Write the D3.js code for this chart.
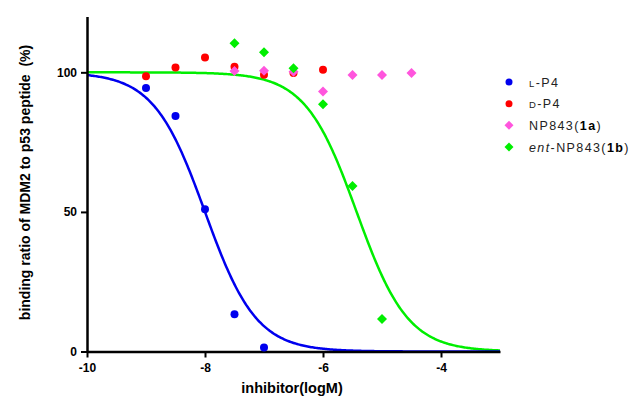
<!DOCTYPE html>
<html>
<head>
<meta charset="utf-8">
<script src="https://d3js.org/d3.v7.min.js"></script>
<style>
  body { margin: 0; background: #fff; }
  text { font-family: "Liberation Sans", Arial, sans-serif; }
</style>
</head>
<body>
<div id="chart"></div>
<script>
// measured points (log M, % binding)
var lp4X = [-9, -8.5, -8, -7.5, -7];
var lp4Y = [94.4, 84.4, 51, 13.3, 1.4];
var dp4X = [-9, -8.5, -8, -7.5, -7, -6.5, -6];
var dp4Y = [98.6, 101.7, 105.3, 102, 99.1, 99.8, 100.9];
var np1aX = [-7.5, -7, -6.5, -6, -5.5, -5, -4.5];
var np1aY = [100.5, 100.6, 100.2, 93.1, 99, 99, 99.8];
var np1bX = [-7.5, -7, -6.5, -6, -5.5, -5];
var np1bY = [110.4, 107.2, 101.5, 88.6, 59.3, 11.6];

// fitted dose-response parameters: [logIC50, hill slope]
var lp4Fit = [-8.0, 1.0];
var np1bFit = [-5.43, 1.0];

var xTicks = [-10, -8, -6, -4];
var yTicks = [0, 50, 100];

var width = 635, height = 399;
var svg = d3.select("#chart").append("svg")
  .attr("width", width).attr("height", height);

var x = d3.scaleLinear().domain([-10, -3]).range([87, 500]);
var y = d3.scaleLinear().domain([0, 120]).range([351.5, 16.5]);

// fitted curves
function curve(fit) {
  var pts = d3.range(-10, -2.99, 0.02).map(function(v) {
    return [v, 100 / (1 + Math.pow(10, (v - fit[0]) * fit[1]))];
  });
  return d3.line().x(function(d){ return x(d[0]); }).y(function(d){ return y(d[1]); })(pts);
}

svg.append("path").attr("d", curve(np1bFit))
  .attr("fill", "none").attr("stroke", "#00ee00").attr("stroke-width", 2.5);
svg.append("path").attr("d", curve(lp4Fit))
  .attr("fill", "none").attr("stroke", "#0000ee").attr("stroke-width", 2.5);

// axes
var fmt = function(d){ return String(d); };
var xAxis = d3.axisBottom(x).tickValues(xTicks).tickFormat(fmt).tickSize(6).tickSizeOuter(0);
var gx = svg.append("g").attr("transform", "translate(0," + y(0) + ")").call(xAxis);
var yAxis = d3.axisLeft(y).tickValues(yTicks).tickFormat(fmt).tickSize(6).tickSizeOuter(0);
var gy = svg.append("g").attr("transform", "translate(" + x(-10) + ",0)").call(yAxis);
[gx, gy].forEach(function(g) {
  g.select(".domain").attr("stroke", "#000").attr("stroke-width", 2.5);
  g.selectAll(".tick line").attr("stroke", "#000").attr("stroke-width", 2);
  g.selectAll(".tick text").attr("fill", "#000")
    .style("font-family", "'Liberation Sans', Arial, sans-serif")
    .style("font-size", "12px").style("font-weight", "bold");
});
gx.selectAll(".tick text").attr("dy", "0.95em");
gy.selectAll(".tick text").attr("x", -10);

// markers
function dots(xs, ys, color) {
  svg.append("g").selectAll("circle").data(xs).enter().append("circle")
    .attr("cx", function(d){ return x(d); })
    .attr("cy", function(d, i){ return y(ys[i]); })
    .attr("r", 4).attr("fill", color);
}
function diamonds(xs, ys, color) {
  svg.append("g").selectAll("path").data(xs).enter().append("path")
    .attr("d", d3.symbol().type(d3.symbolSquare).size(50)())
    .attr("transform", function(d, i){ return "translate(" + x(d) + "," + y(ys[i]) + ") rotate(45)"; })
    .attr("fill", color);
}
dots(lp4X, lp4Y, "#0000ee");
dots(dp4X, dp4Y, "#ff0000");
diamonds(np1aX, np1aY, "#ff55dd");
diamonds(np1bX, np1bY, "#00ee00");

// axis titles
svg.append("text").attr("x", 292).attr("y", 392.5).attr("text-anchor", "middle")
  .style("font-size", "14.5px").style("font-weight", "bold").text("inhibitor(logM)");
svg.append("text").attr("transform", "translate(30,182.5) rotate(-90)").attr("text-anchor", "middle")
  .style("font-size", "14px").style("font-weight", "bold").style("white-space", "pre")
  .text("binding ratio of MDM2 to p53 peptide  (%)");

// legend
var legY = [82, 103.7, 125.3, 147];
var leg = svg.append("g").style("font-size", "12.5px").style("letter-spacing", "1.4px").attr("fill", "#222");
leg.append("circle").attr("cx", 509).attr("cy", legY[0]).attr("r", 3.5).attr("fill", "#0000ee");
leg.append("circle").attr("cx", 509).attr("cy", legY[1]).attr("r", 3.5).attr("fill", "#ff0000");
leg.append("path").attr("d", d3.symbol().type(d3.symbolSquare).size(40)())
  .attr("transform", "translate(509," + legY[2] + ") rotate(45)").attr("fill", "#ff55dd");
leg.append("path").attr("d", d3.symbol().type(d3.symbolSquare).size(40)())
  .attr("transform", "translate(509," + legY[3] + ") rotate(45)").attr("fill", "#00ee00");

var t1 = leg.append("text").attr("x", 529).attr("y", legY[0] + 4.5);
t1.append("tspan").style("font-size", "9.5px").text("L");
t1.append("tspan").text("-P4");
var t2 = leg.append("text").attr("x", 529).attr("y", legY[1] + 4.5);
t2.append("tspan").style("font-size", "9.5px").text("D");
t2.append("tspan").text("-P4");
var t3 = leg.append("text").attr("x", 529).attr("y", legY[2] + 4.5).style("white-space", "pre");
t3.append("tspan").text("NP843(");
t3.append("tspan").style("font-weight", "bold").attr("fill", "#000").text("1a");
t3.append("tspan").text(")");
var t4 = leg.append("text").attr("x", 529).attr("y", legY[3] + 4.5);
t4.append("tspan").style("font-style", "italic").text("ent");
t4.append("tspan").text("-NP843(");
t4.append("tspan").style("font-weight", "bold").attr("fill", "#000").text("1b");
t4.append("tspan").text(")");
</script>
</body>
</html>
